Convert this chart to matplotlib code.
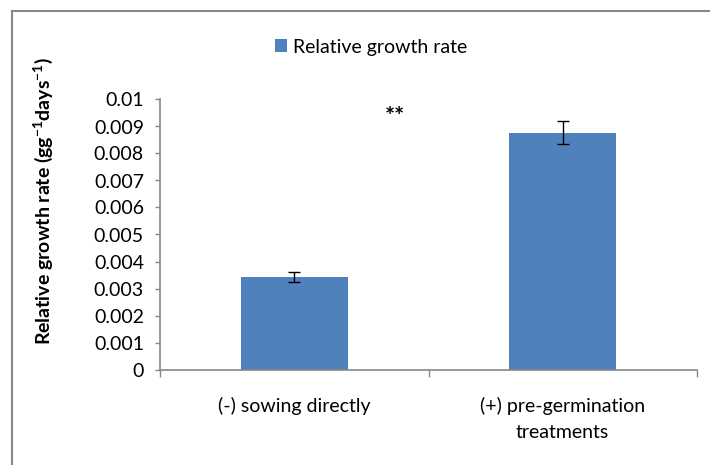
import matplotlib
matplotlib.use("Agg")
import matplotlib.pyplot as plt
from matplotlib.lines import Line2D
import numpy as np

categories = ["(-) sowing directly", "(+) pre-germination\ntreatments"]
values = [0.00342, 0.00877]
errors = [0.00018, 0.00043]
series_name = "Relative growth rate"
yticks = [0, 0.001, 0.002, 0.003, 0.004, 0.005, 0.006, 0.007, 0.008, 0.009, 0.01]
ytick_labels = ["0", "0.001", "0.002", "0.003", "0.004", "0.005", "0.006", "0.007", "0.008", "0.009", "0.01"]
annotation = "**"

plt.rcParams['font.family'] = ['Lato', 'DejaVu Sans']
plt.rcParams['mathtext.fontset'] = 'custom'
plt.rcParams['mathtext.rm'] = 'Lato'
plt.rcParams['mathtext.bf'] = 'Lato:bold'

W, H = 710, 465
fig = plt.figure(figsize=(W/100, H/100), dpi=100)
ax = fig.add_axes([160/W, 1-369.5/H, (697-160)/W, (369.5-99.5)/H])

x = np.arange(len(categories))
ax.bar(x, values, width=0.397, color="#4f81bd", label=series_name, zorder=2)
ax.errorbar(x, values, yerr=errors, fmt="none", ecolor="black", elinewidth=1.0,
            capsize=4.3, capthick=1.0, zorder=3)

ax.set_xlim(-0.5, 1.5)
ax.set_ylim(0, 0.01)
ax.set_yticks(yticks)
ax.set_yticklabels(ytick_labels, fontsize=14)
ax.set_xticks(x)
ax.set_xticklabels(categories, fontsize=14, linespacing=1.6)
ax.tick_params(axis="x", length=0, pad=20)
ax.set_xticks([-0.5, 0.5, 1.5], minor=True)
ax.tick_params(axis="x", which="minor", length=5, color="#888888", width=1)
ax.tick_params(axis="y", length=3.6, color="#888888", width=1, pad=8)

for s in ["top", "right"]:
    ax.spines[s].set_visible(False)
for s in ["left", "bottom"]:
    ax.spines[s].set_color("#888888")
    ax.spines[s].set_linewidth(1.2)

ax.set_ylabel("Relative growth rate (gg$^{\\mathbf{-1}}$days$^{\\mathbf{-1}}$)",
              fontsize=14, fontweight="bold")
ax.yaxis.set_label_coords((55-160)/537, (369.5-201)/270)

ax.text(0.375, 0.00935, annotation, ha="center", va="center", fontsize=17, fontweight="bold")

leg = fig.legend(loc="center", bbox_to_anchor=(371/W, 1-47/H), frameon=False,
                 fontsize=14, handlelength=0.6, handleheight=0.6, handletextpad=0.3)

# chart border (top and left visible)
fig.add_artist(Line2D([11.5/W, 11.5/W], [0, 1-11.5/H], transform=fig.transFigure,
                      color="#888888", linewidth=1.5))
fig.add_artist(Line2D([11.5/W, 1], [1-11.5/H, 1-11.5/H], transform=fig.transFigure,
                      color="#888888", linewidth=1.5))

fig.savefig("out.png", dpi=100)
